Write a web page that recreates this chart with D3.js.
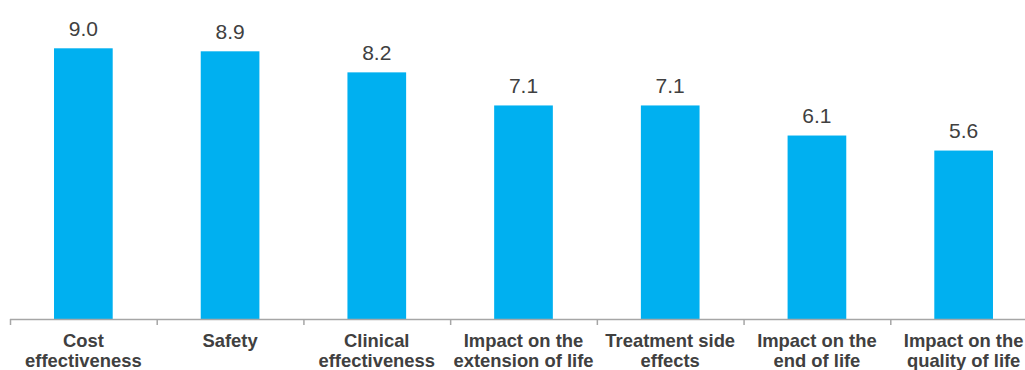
<!DOCTYPE html>
<html><head><meta charset="utf-8">
<script src="https://cdn.jsdelivr.net/npm/d3@7"></script>
<style>html,body{margin:0;padding:0;background:#fff;}svg{display:block;}</style>
</head><body>
<svg id="chart" width="1025" height="370"></svg>
<script>
const categories = ["Cost\neffectiveness","Safety","Clinical\neffectiveness","Impact on the\nextension of life","Treatment side\neffects","Impact on the\nend of life","Impact on the\nquality of life"];
const values = [9.0, 8.9, 8.2, 7.1, 7.1, 6.1, 5.6];

const svg = d3.select("#chart");
const baseY = 319;
const x = d3.scaleBand().domain(categories).range([10, 1037]).paddingInner(0.6).paddingOuter(0.3);
const xb = d3.scaleBand().domain(categories).range([10, 1037]).padding(0);
const y = d3.scaleLinear().domain([0, 9]).range([baseY, 48.3]);

svg.selectAll("rect.bar").data(values).join("rect")
  .attr("class","bar")
  .attr("x",(d,i)=>x(categories[i]))
  .attr("width",x.bandwidth())
  .attr("y",d=>y(d))
  .attr("height",d=>baseY-y(d))
  .attr("fill","#00B0F0");

svg.selectAll("text.val").data(values).join("text")
  .attr("class","val")
  .attr("x",(d,i)=>x(categories[i])+x.bandwidth()/2)
  .attr("y",d=>y(d)-12.6)
  .attr("text-anchor","middle")
  .attr("font-family","'Liberation Sans', Arial, sans-serif")
  .attr("font-size","21px")
  .attr("fill","#404040")
  .text(d=>d.toFixed(1));

// axis line and ticks at band boundaries
const ax = svg.append("g");
ax.append("line").attr("x1",10).attr("x2",1037).attr("y1",baseY+0.5).attr("y2",baseY+0.5)
  .attr("stroke","#a6a6a6").attr("stroke-width",1.5);
const bounds = categories.map(c=>xb(c)).concat([xb.range()[1]]);
ax.selectAll("line.tick").data(bounds).join("line").attr("class","tick")
  .attr("x1",d=>d+0.5).attr("x2",d=>d+0.5).attr("y1",baseY).attr("y2",baseY+6)
  .attr("stroke","#a6a6a6").attr("stroke-width",1.5);

const lbl = svg.selectAll("text.cat").data(categories).join("text")
  .attr("class","cat")
  .attr("x",d=>xb(d)+xb.bandwidth()/2)
  .attr("y",347.3)
  .attr("text-anchor","middle")
  .attr("font-family","'Liberation Sans', Arial, sans-serif")
  .attr("font-size","18.4px")
  .attr("font-weight","bold")
  .attr("fill","#404040");
lbl.each(function(d){
  const t = d3.select(this);
  d.split("\n").forEach((ln,i)=>{
    t.append("tspan").attr("x",xb(d)+xb.bandwidth()/2).attr("dy",i===0?0:19.5).text(ln);
  });
});
</script>
</body></html>
